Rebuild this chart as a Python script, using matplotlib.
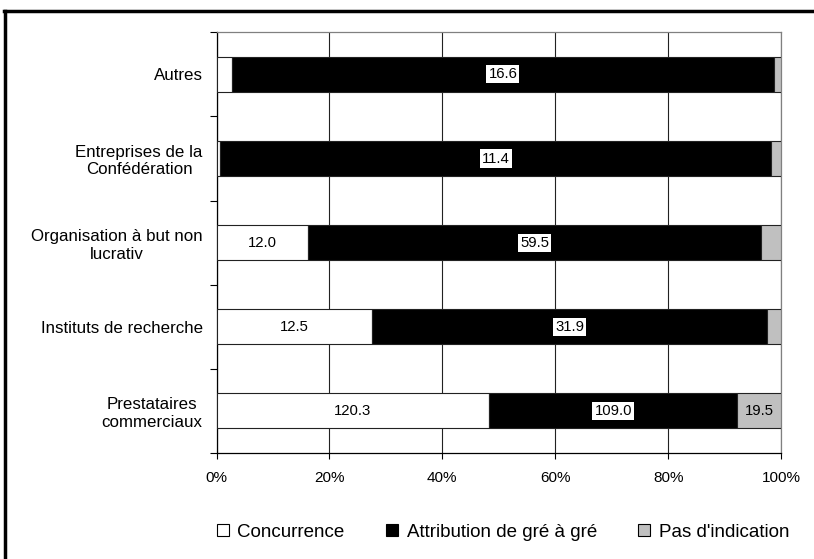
import matplotlib
matplotlib.use("Agg")
import matplotlib.pyplot as plt
from matplotlib.lines import Line2D
from matplotlib.patches import Patch
import numpy as np

plt.rcParams['font.family'] = ['Liberation Sans', 'DejaVu Sans']

# categories from top to bottom
categories = ['Autres', 'Entreprises de la\nConfédération', 'Organisation à but non\nlucrativ',
              'Instituts de recherche', 'Prestataires\ncommerciaux']
concurrence = [0.47, 0.07, 12.0, 12.5, 120.3]
gre_a_gre = [16.6, 11.4, 59.5, 31.9, 109.0]
pas_indication = [0.22, 0.2, 2.6, 1.1, 19.5]
series_names = ['Concurrence', 'Attribution de gré à gré', "Pas d'indication"]
series_colors = ['white', 'black', '#c0c0c0']
# which values get a label
show_label = [[False, True, False], [False, True, False], [True, True, False],
              [True, True, False], [True, True, True]]

data = np.array([concurrence, gre_a_gre, pas_indication])
totals = data.sum(axis=0)
pct = data / totals * 100

fig = plt.figure(figsize=(8.14, 5.59), dpi=100)
ax = fig.add_axes([0.266, 0.1896, 0.6935, 0.7526])

ypos = np.arange(len(categories))[::-1]
left = np.zeros(len(categories))
for s in range(3):
    ax.barh(ypos, pct[s], left=left, height=0.415, color=series_colors[s],
            edgecolor='#222222', linewidth=0.8, zorder=3)
    for i in range(len(categories)):
        if show_label[i][s]:
            cx = left[i] + pct[s][i] / 2
            if s == 1:
                ax.text(cx, ypos[i], f"{data[s][i]:.1f}", ha='center', va='center',
                        fontsize=10.7, color='black', zorder=5,
                        bbox=dict(facecolor='white', edgecolor='none', pad=1.5))
            else:
                ax.text(cx, ypos[i], f"{data[s][i]:.1f}", ha='center', va='center',
                        fontsize=10.7, color='black', zorder=5)
    left += pct[s]

ax.set_xlim(0, 100)
ax.set_ylim(-0.5, len(categories) - 0.5)
ax.set_xticks([0, 20, 40, 60, 80, 100])
ax.set_xticklabels(['0%', '20%', '40%', '60%', '80%', '100%'], fontsize=11)
ax.set_yticks(ypos)
ax.set_yticklabels(categories, fontsize=12.2, multialignment='center')
ax.set_yticks(np.arange(-0.5, len(categories)), minor=True)
ax.tick_params(axis='y', which='major', length=0, pad=10)
ax.tick_params(axis='y', which='minor', length=5, width=0.8, direction='out')
ax.tick_params(axis='x', length=4, width=0.8, direction='out', pad=9)
ax.xaxis.grid(True, color='#222222', linewidth=0.8, zorder=0)
ax.set_axisbelow(True)
for side in ['top', 'right']:
    ax.spines[side].set_color('#808080')
for side in ['left', 'bottom']:
    ax.spines[side].set_color('black')
for sp in ax.spines.values():
    sp.set_linewidth(0.9)

handles = [Patch(facecolor=c, edgecolor='black', linewidth=0.8) for c in series_colors]
fig.legend(handles, series_names, loc='center', bbox_to_anchor=(0.618, 0.048), ncol=3,
           frameon=False, fontsize=13.5, handlelength=0.65, handleheight=0.65,
           handletextpad=0.45, columnspacing=2.2)

# outer frame (top and left edges)
fig.add_artist(Line2D([4 / 814, 1], [1 - 11 / 559, 1 - 11 / 559], color='black', linewidth=2.5,
                      transform=fig.transFigure))
fig.add_artist(Line2D([5 / 814, 5 / 814], [0, 1 - 11 / 559], color='black', linewidth=2.5,
                      transform=fig.transFigure))

fig.savefig('out.png', dpi=100)
